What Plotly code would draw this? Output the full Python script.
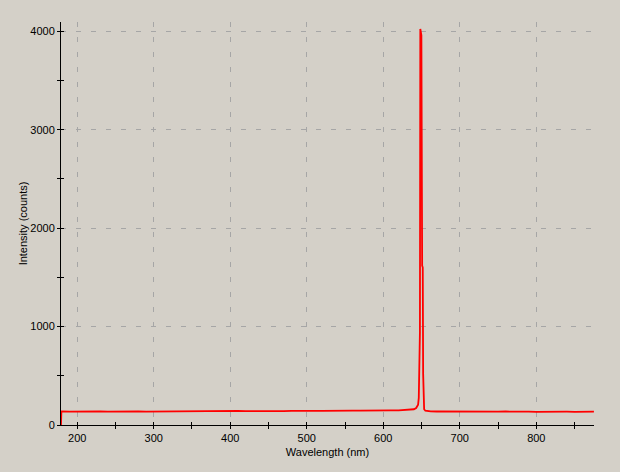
import plotly.graph_objects as go

# Baseline (wavelength nm, counts)
base_left_wl = [178.8, 179.3, 190, 200, 210, 220, 230, 240, 250, 260, 270, 280, 290, 300,
                310, 320, 330, 340, 350, 360, 370, 380, 390, 400, 410, 420, 430, 440,
                450, 460, 470, 480, 490, 500, 510, 520, 530, 540, 550, 560, 570, 580,
                590, 600, 610, 620, 630, 635, 640, 643, 645.5]
base_left_int = [0, 138, 136, 138, 135, 137, 139, 136, 138, 137, 135, 138, 136, 137,
                 139, 137, 140, 138, 141, 139, 140, 142, 140, 141, 143, 141, 140, 142,
                 143, 141, 142, 144, 142, 145, 143, 144, 146, 144, 145, 147, 146, 145,
                 147, 146, 148, 149, 152, 155, 160, 172, 205]
peak_wl = [646.4, 647.0, 647.9, 648.4, 649.1, 649.8, 650.8, 651.6, 652.1, 652.6, 653.4]
peak_int = [275, 936, 945, 4024, 3990, 3960, 1620, 1600, 520, 234, 160]
base_right_wl = [655, 658, 662, 670, 680, 690, 700, 710, 720, 730, 740, 750, 760, 770,
                 780, 790, 800, 810, 820, 830, 840, 850, 860, 870, 875.3]
base_right_int = [145, 140, 138, 137, 136, 138, 135, 137, 136, 134, 136, 135, 137, 134,
                  136, 135, 134, 136, 135, 133, 135, 134, 136, 134, 135]

x_ticks = [200, 300, 400, 500, 600, 700, 800]
y_ticks = [0, 1000, 2000, 3000, 4000]

wl = base_left_wl + peak_wl + base_right_wl
inten = base_left_int + peak_int + base_right_int

BG = "#d4d0c8"
GRID = "#a6a6a6"
FONT = dict(family="Liberation Sans, Arial, sans-serif", size=11, color="black")
XR = [178.8, 875.4]
YR = [0, 4095]

fig = go.Figure()
fig.add_trace(go.Scatter(x=wl, y=inten, mode="lines",
                         line=dict(color="#ff0000", width=1.8), hoverinfo="skip",
                         showlegend=False))
# helper trace for the overlay axes (inward half of crossing ticks)
fig.add_trace(go.Scatter(x=[XR[0]], y=[YR[0]], xaxis="x2", yaxis="y2", mode="markers",
                         marker=dict(size=0.1, opacity=0), showlegend=False,
                         hoverinfo="skip"))

axis_common = dict(showline=True, linecolor="black", linewidth=1, zeroline=False,
                   ticks="outside", ticklen=3, tickcolor="black", tickwidth=1,
                   showgrid=True, gridcolor=GRID, gridwidth=1, griddash="5px,10px",
                   tickfont=FONT, mirror=False)

fig.update_layout(
    width=620, height=472,
    paper_bgcolor=BG, plot_bgcolor=BG,
    margin=dict(l=61, r=26, t=22, b=47),
    font=FONT,
    showlegend=False,
    xaxis=dict(range=XR, tickvals=x_ticks, ticktext=[str(v) for v in x_ticks],
               minor=dict(ticks="outside", ticklen=3, tickcolor="black",
                          dtick=50, tick0=0, showgrid=False),
               title=dict(text="Wavelength (nm)", font=FONT, standoff=5),
               **axis_common),
    yaxis=dict(range=YR, tickvals=y_ticks, ticktext=[str(v) for v in y_ticks],
               minor=dict(ticks="outside", ticklen=3, tickcolor="black",
                          dtick=500, tick0=0, showgrid=False),
               title=dict(text="Intensity (counts)", font=FONT, standoff=0),
               **axis_common),
    xaxis2=dict(overlaying="x", range=XR, showline=False, zeroline=False,
                showgrid=False, ticks="inside", ticklen=3, tickcolor="black",
                tickvals=x_ticks, showticklabels=False, side="bottom",
                minor=dict(ticks="inside", ticklen=3, tickcolor="black",
                           dtick=50, tick0=0, showgrid=False)),
    yaxis2=dict(overlaying="y", range=YR, showline=False, zeroline=False,
                showgrid=False, ticks="inside", ticklen=3, tickcolor="black",
                tickvals=y_ticks, showticklabels=False, side="left",
                minor=dict(ticks="inside", ticklen=3, tickcolor="black",
                           dtick=500, tick0=0, showgrid=False)),
)

fig.write_html("out.html", config={"displayModeBar": False},
               post_script="document.body.style.margin='0';document.body.style.padding='0';")
